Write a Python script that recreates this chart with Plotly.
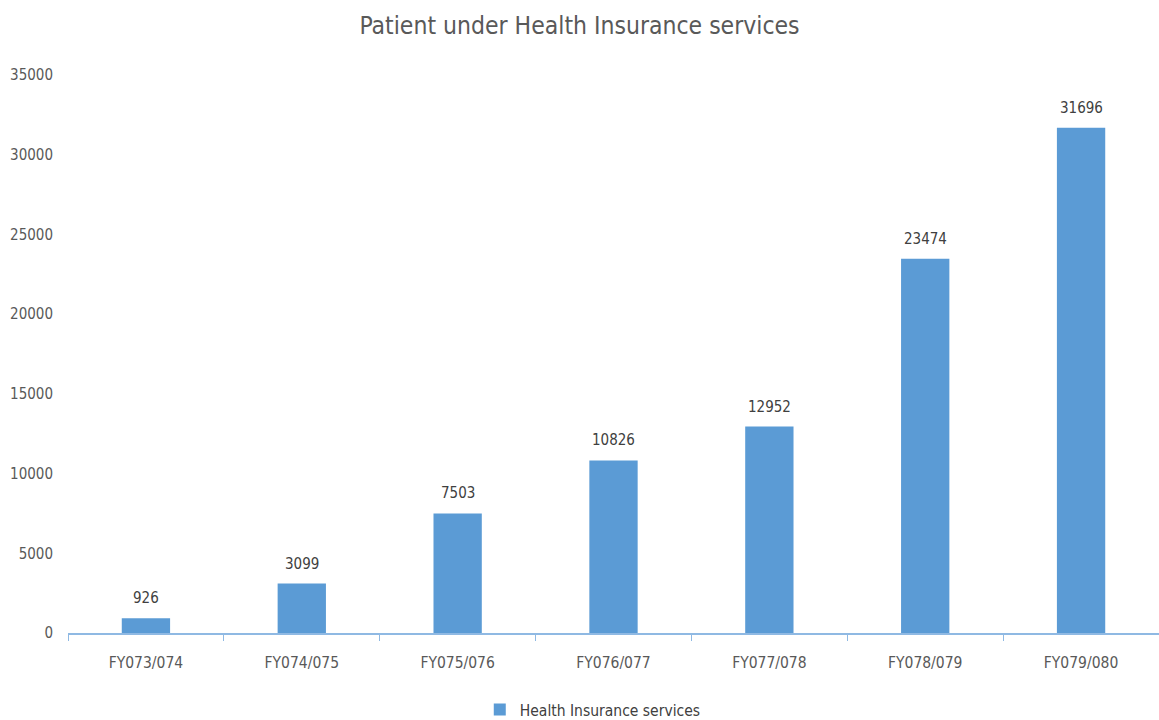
import plotly.graph_objects as go

categories = ["FY073/074", "FY074/075", "FY075/076", "FY076/077", "FY077/078", "FY078/079", "FY079/080"]
values = [926, 3099, 7503, 10826, 12952, 23474, 31696]
series_name = "Health Insurance services"
y_ticks = [0, 5000, 10000, 15000, 20000, 25000, 30000, 35000]

FONT = "DejaVu Sans Condensed, Liberation Sans Narrow, Liberation Sans, Arial, sans-serif"

fig = go.Figure()
fig.add_trace(go.Bar(
    x=categories, y=values, name=series_name,
    marker=dict(color="#5b9bd5", line=dict(width=0)),
))

for c, v in zip(categories, values):
    fig.add_annotation(x=c, y=v, text=str(v), showarrow=False, yanchor="bottom",
                       yshift=9, font=dict(family=FONT, size=15, color="#404040"))

fig.update_layout(
    width=1159, height=720,
    margin=dict(l=68, r=0, t=75, b=87),
    paper_bgcolor="white", plot_bgcolor="white",
    title=dict(text="Patient under Health Insurance services", x=0.5, xanchor="center",
               y=0.965, yanchor="middle",
               font=dict(family=FONT, size=24.5, color="#595959")),
    bargap=0.69,
    showlegend=True,
    legend=dict(orientation="h", x=0.481, xanchor="center", yref="container",
                y=0.014, yanchor="middle",
                font=dict(family=FONT, size=15.5, color="#404040"), itemwidth=30),
    xaxis=dict(showline=True, linecolor="#8fb9e3", linewidth=2, ticks="outside",
               tickson="boundaries", ticklen=6, tickcolor="#8fb9e3", tickwidth=1,
               automargin=False, showgrid=False, ticklabelstandoff=14,
               tickfont=dict(family=FONT, size=15.5, color="#595959")),
    yaxis=dict(range=[0, 35000], tickvals=y_ticks, ticktext=[str(t) for t in y_ticks],
               showgrid=False, zeroline=False, automargin=False,
               showline=False, ticks="", ticklabelstandoff=14,
               tickfont=dict(family=FONT, size=15, color="#595959")),
)

fig.write_html("out.html", config={"displayModeBar": False},
               post_script="document.body.style.margin='0';")
